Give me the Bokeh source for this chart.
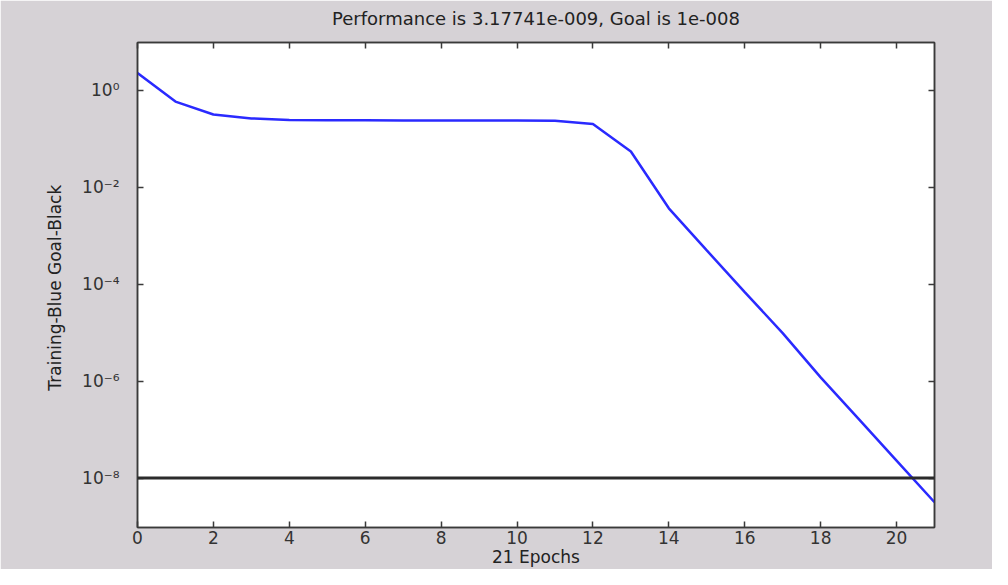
from bokeh.plotting import figure
from bokeh.models import (Range1d, LinearAxis, LogAxis, FixedTicker,
                          CustomJSTickFormatter, Span)
from bokeh.embed import file_html
from bokeh.resources import INLINE

# ---- data ----
epochs = list(range(22))
performance = [2.3, 0.59, 0.32, 0.265, 0.245, 0.243, 0.242, 0.241, 0.240,
               0.240, 0.239, 0.236, 0.203, 0.055, 3.7e-3, 5.0e-4, 6.9e-5,
               9.8e-6, 1.2e-6, 1.66e-7, 2.3e-8, 3.17741e-9]
goal = 1e-8
x_ticks = [0, 2, 4, 6, 8, 10, 12, 14, 16, 18, 20]
y_ticks = [1e-8, 1e-6, 1e-4, 1e-2, 1e0]
title_text = "Performance is 3.17741e-009, Goal is 1e-008"
x_label = "21 Epochs"
y_label = "Training-Blue  Goal-Black"

BG = "#d6d2d6"
AX = "#3a3a3a"
FONT = "DejaVu Sans"

p = figure(width=992, height=569, y_axis_type="log",
           x_range=Range1d(0, 21), y_range=Range1d(10**-9.02, 10**0.99),
           output_backend="svg", toolbar_location=None,
           min_border_left=137, min_border_right=58,
           min_border_top=41, min_border_bottom=42)
p.border_fill_color = BG
p.background_fill_color = "white"
p.outline_line_color = AX
p.outline_line_width = 1.5
p.grid.visible = False

p.title.text = title_text
p.title.align = "center"
p.title.text_font = FONT
p.title.text_font_size = "18px"
p.title.text_font_style = "normal"
p.title.text_color = "#222222"

sup = CustomJSTickFormatter(code="""
const m = {'-':'\u207b','0':'\u2070','1':'\u00b9','2':'\u00b2','3':'\u00b3','4':'\u2074',
           '5':'\u2075','6':'\u2076','7':'\u2077','8':'\u2078','9':'\u2079'};
const e = String(Math.round(Math.log10(tick)));
let s = '';
for (const c of e) { s += m[c]; }
return '10' + s;
""")
blank = CustomJSTickFormatter(code="return '';")
spacer = CustomJSTickFormatter(code="return ' ';")

def style(ax):
    ax.axis_line_color = AX
    ax.axis_line_width = 1.5
    ax.major_tick_line_color = AX
    ax.major_tick_line_width = 1.5
    ax.major_tick_in = 6
    ax.major_tick_out = 0
    ax.minor_tick_line_color = None
    ax.major_label_text_font = FONT
    ax.major_label_text_font_size = "17px"
    ax.major_label_text_color = "#333333"
    ax.axis_label_text_font = FONT
    ax.axis_label_text_font_size = "17px"
    ax.axis_label_text_font_style = "normal"
    ax.axis_label_text_color = "#222222"

xa = p.xaxis[0]
xa.ticker = FixedTicker(ticks=x_ticks)
xa.axis_label = x_label
style(xa)
xa.major_label_standoff = 3
xa.axis_label_standoff = 0

ya = p.yaxis[0]
ya.ticker = FixedTicker(ticks=y_ticks)
ya.formatter = sup
ya.axis_label = y_label
style(ya)
ya.major_label_standoff = 18
ya.axis_label_standoff = 14

top = LinearAxis(ticker=FixedTicker(ticks=x_ticks), formatter=spacer)
style(top)
top.major_label_text_font_size = "5px"
top.major_label_standoff = 0
p.add_layout(top, "above")

right = LogAxis(ticker=FixedTicker(ticks=y_ticks), formatter=blank)
style(right)
right.major_label_text_font_size = "1px"
p.add_layout(right, "right")

p.add_layout(Span(location=goal, dimension="width", line_color="#2b2b2b",
                  line_width=3))
p.line(epochs, performance, line_color="#2a2aff", line_width=2.5)

open("out.html", "w").write(file_html(p, INLINE))
